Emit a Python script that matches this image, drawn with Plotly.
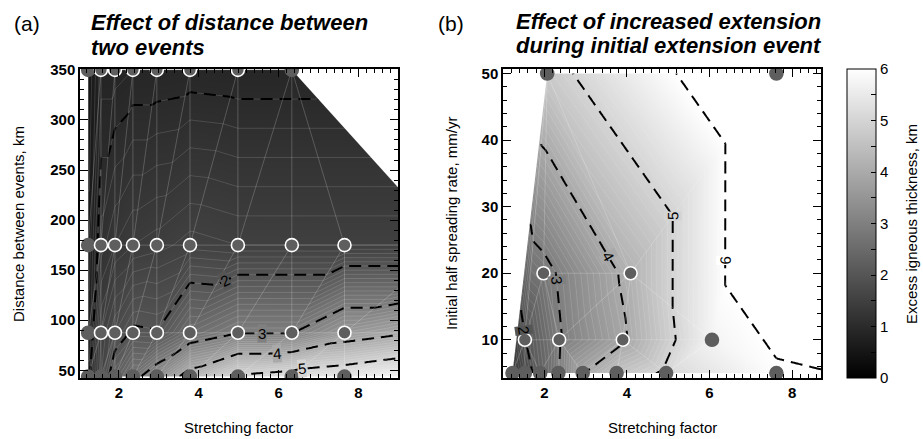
import numpy as np
import pandas as pd
import plotly.graph_objects as go

FONT = "Liberation Sans, Arial, sans-serif"

# ---------------- Panel (a): effect of distance between two events ----------------
# stretching factor of each model column (last column lies beyond the plotted range)
A_BETA = [1.23, 1.55, 1.9, 2.35, 2.95, 3.78, 4.98, 6.33, 7.65, 10.3]
# distance between events, km (one row of runs per distance)
A_DIST = [350, 175, 87.5, 43.75]
# excess igneous thickness, km (None = no run)
A_THICK_350 = [0.5, 0.85, 0.85, 0.9, 0.9, 0.92, 0.9, 0.9, None, None]
A_THICK_175 = [0.6, 1.15, 1.3, 1.4, 1.45, 1.55, 1.5, 1.5, 1.5, 1.5]
A_THICK_88 = [0.7, 1.5, 1.8, 2.05, 2.02, 2.6, 2.98, 2.98, 3.6, 4.2]
A_THICK_44 = [0.9, 1.6, 2.3, 2.8, 3.4, 4.3, 5.1, 5.3, 5.5, 6.0]
# runs drawn with a white ring
A_RING_350 = [0, 1, 1, 1, 1, 1, 1, 0, 0, 0]
A_RING_175 = [0, 1, 1, 1, 1, 1, 1, 1, 1, 0]
A_RING_88 = [0, 1, 1, 1, 1, 1, 1, 1, 1, 0]
A_RING_44 = [0, 0, 0, 0, 0, 0, 0, 0, 0, 0]
# contour labels: (level, stretching factor of the vertical line where the label sits)
A_LABELS = [(2, 4.65), (3, 5.6), (4, 5.95), (5, 6.6)]

# ---------------- Panel (b): increased extension during initial event ----------------
B_RATE = [5, 10, 20, 50]  # initial half spreading rate, mm/yr
B_BETA_5 = [1.23, 1.53, 1.9, 2.34, 2.93, 3.75, 4.95, 7.62, 10.5]
B_THICK_5 = [1.2, 1.7, 2.3, 2.97, 3.97, 4.6, 5.1, 5.95, 6.05]
B_RING_5 = [0, 0, 0, 0, 0, 0, 0, 0, 0]
B_BETA_10 = [1.53, 2.36, 3.9, 6.06]
B_THICK_10 = [1.97, 2.95, 3.9, 5.75]
B_RING_10 = [1, 1, 1, 0]
B_BETA_20 = [1.98, 4.09]
B_THICK_20 = [2.8, 4.2]
B_RING_20 = [1, 1]
B_BETA_50 = [2.07, 7.62]
B_THICK_50 = [4.75, 6.97]
B_RING_50 = [0, 0]
# contour labels: (level, spreading rate of the horizontal line, stretching factor it sits near)
B_LABELS = [(2, 11.5, 1.5), (3, 19.0, 2.4), (4, 22.5, 3.6), (5, 28.5, 5.05), (6, 22.0, 6.35)]

ZMIN, ZMAX = 0, 6
A_XR, A_YR = [1.025, 8.99], [42.2, 351.0]
B_XR, B_YR = [1.0, 8.7], [4.24, 50.7]
PLOT_W, PLOT_H = 318, 315
NGRID = 240


def collect(rows):
    xs, ys, zs, rs = [], [], [], []
    for y, bx, bz, br in rows:
        for x, z, r in zip(bx, bz, br):
            if z is None:
                continue
            xs.append(x); ys.append(y); zs.append(z); rs.append(r)
    return np.array(xs, float), np.array(ys, float), np.array(zs, float), np.array(rs, int)


def delaunay(px, py):
    n = len(px)
    P = list(zip(px, py))
    span = max(px.max() - px.min(), py.max() - py.min())
    cx, cy = (px.max() + px.min()) / 2, (py.max() + py.min()) / 2
    P += [(cx - 30 * span, cy - 15 * span), (cx, cy + 30 * span), (cx + 30 * span, cy - 15 * span)]

    def circ(t):
        (ax, ay), (bx, by), (qx, qy) = P[t[0]], P[t[1]], P[t[2]]
        d = 2 * (ax * (by - qy) + bx * (qy - ay) + qx * (ay - by))
        if abs(d) < 1e-12:
            return 0.0, 0.0, np.inf
        a2, b2, q2 = ax * ax + ay * ay, bx * bx + by * by, qx * qx + qy * qy
        ux = (a2 * (by - qy) + b2 * (qy - ay) + q2 * (ay - by)) / d
        uy = (a2 * (qx - bx) + b2 * (ax - qx) + q2 * (bx - ax)) / d
        return ux, uy, (ax - ux) ** 2 + (ay - uy) ** 2

    tris = [(n, n + 1, n + 2)]
    for i in range(n):
        x, y = P[i]
        bad = []
        for t in tris:
            ux, uy, r2 = circ(t)
            if (x - ux) ** 2 + (y - uy) ** 2 < r2 * (1 - 1e-9):
                bad.append(t)
        edges = {}
        for t in bad:
            for e in ((t[0], t[1]), (t[1], t[2]), (t[2], t[0])):
                k = tuple(sorted(e))
                edges[k] = edges.get(k, 0) + 1
        tris = [t for t in tris if t not in bad]
        for (a, b), c in edges.items():
            if c == 1:
                tris.append((a, b, i))
    return [t for t in tris if max(t) < n]


def hull(xs, ys):
    pts = sorted(set(zip(xs.tolist(), ys.tolist())))

    def cross(o, a, b):
        return (a[0] - o[0]) * (b[1] - o[1]) - (a[1] - o[1]) * (b[0] - o[0])

    lower, upper = [], []
    for p in pts:
        while len(lower) >= 2 and cross(lower[-2], lower[-1], p) <= 0:
            lower.pop()
        lower.append(p)
    for p in reversed(pts):
        while len(upper) >= 2 and cross(upper[-2], upper[-1], p) <= 0:
            upper.pop()
        upper.append(p)
    return lower[:-1] + upper[:-1]  # counter-clockwise


def surface(xs, ys, zs, xr, yr, n=NGRID):
    # triangulate in screen proportions, then linear interpolation on each triangle
    px = (xs - xr[0]) / (xr[1] - xr[0]) * PLOT_W
    py = (ys - yr[0]) / (yr[1] - yr[0]) * PLOT_H
    tris = delaunay(px, py)
    gx = np.linspace(xr[0], xr[1], n)
    gy = np.linspace(yr[0], yr[1], n)
    GX, GY = np.meshgrid(gx, gy)
    Z = np.full(GX.shape, np.nan)
    for i, j, k in tris:
        x1, y1, x2, y2, x3, y3 = xs[i], ys[i], xs[j], ys[j], xs[k], ys[k]
        det = (y2 - y3) * (x1 - x3) + (x3 - x2) * (y1 - y3)
        if abs(det) < 1e-12:
            continue
        l1 = ((y2 - y3) * (GX - x3) + (x3 - x2) * (GY - y3)) / det
        l2 = ((y3 - y1) * (GX - x3) + (x1 - x3) * (GY - y3)) / det
        l3 = 1 - l1 - l2
        inside = (l1 >= -1e-9) & (l2 >= -1e-9) & (l3 >= -1e-9)
        Z[inside] = (l1 * zs[i] + l2 * zs[j] + l3 * zs[k])[inside]
    # continue values past the data hull (covered by the blank mask afterwards)
    Zf = pd.DataFrame(Z).ffill(axis=1).bfill(axis=1).ffill(axis=0).bfill(axis=0).to_numpy()
    ex, ey = [], []
    for t in tris:
        for a, b in ((t[0], t[1]), (t[1], t[2]), (t[2], t[0])):
            ex += [xs[a], xs[b], None]
            ey += [ys[a], ys[b], None]
    return gx, gy, Zf, ex, ey


def outside_polygon(xs, ys, xr, yr):
    h = hull(xs, ys)
    dx, dy = (xr[1] - xr[0]), (yr[1] - yr[0])
    x0, x1 = xr[0] - dx, xr[1] + dx
    y0, y1 = yr[0] - dy, yr[1] + dy
    cw = h[::-1]
    s = int(np.argmin([(p[0] - x0) ** 2 / dx ** 2 + (p[1] - y0) ** 2 / dy ** 2 for p in cw]))
    cw = cw[s:] + cw[:s]
    px = [x0, x1, x1, x0, x0] + [p[0] for p in cw] + [cw[0][0], x0]
    py = [y0, y0, y1, y1, y0] + [p[1] for p in cw] + [cw[0][1], y0]
    return px, py


def crossing(gx, gy, Z, level, x=None, y=None, near=None):
    """Point where the surface crosses `level` along a vertical (x) or horizontal (y) line."""
    if y is not None:
        r = int(np.argmin(np.abs(gy - y)))
        line, pos = Z[r] - level, gx
    else:
        c = int(np.argmin(np.abs(gx - x)))
        line, pos = Z[:, c] - level, gy
    idx = np.where(np.sign(line[:-1]) != np.sign(line[1:]))[0]
    cands = [pos[i] + (pos[i + 1] - pos[i]) * (-line[i]) / (line[i + 1] - line[i]) for i in idx]
    if y is not None:
        cx = min(cands, key=lambda v: abs(v - near)) if near is not None else cands[0]
        cy = gy[r]
    else:
        cy = min(cands, key=lambda v: abs(v - near)) if near is not None else cands[-1]
        cx = gx[c]
    return cx, cy


def label_angle(gx, gy, Z, cx, cy, xr, yr):
    dzr, dzc = np.gradient(Z)
    i = int(np.argmin(np.abs(gy - cy)))
    j = int(np.argmin(np.abs(gx - cx)))
    gpx = dzc[i, j] / (PLOT_W / (len(gx) - 1))
    gpy = dzr[i, j] / (PLOT_H / (len(gy) - 1))
    tx, ty = -gpy, gpx  # tangent, y upward
    ang = np.degrees(np.arctan2(-ty, tx))  # screen clockwise
    if ang > 90:
        ang -= 180
    if ang < -90:
        ang += 180
    return float(ang)


def gray(v):
    g = int(round(np.clip(v / ZMAX, 0, 1) * 255))
    return f"rgb({g},{g},{g})"


fig = go.Figure()
GRAY = [[0, "black"], [1, "white"]]

panels = [
    (collect([(A_DIST[0], A_BETA, A_THICK_350, A_RING_350),
              (A_DIST[1], A_BETA, A_THICK_175, A_RING_175),
              (A_DIST[2], A_BETA, A_THICK_88, A_RING_88),
              (A_DIST[3], A_BETA, A_THICK_44, A_RING_44)]), A_XR, A_YR, "x", "y", "a"),
    (collect([(B_RATE[0], B_BETA_5, B_THICK_5, B_RING_5),
              (B_RATE[1], B_BETA_10, B_THICK_10, B_RING_10),
              (B_RATE[2], B_BETA_20, B_THICK_20, B_RING_20),
              (B_RATE[3], B_BETA_50, B_THICK_50, B_RING_50)]), B_XR, B_YR, "x2", "y2", "b"),
]

for (xs, ys, zs, rs), xr, yr, xa, ya, tag in panels:
    gx, gy, Z, ex, ey = surface(xs, ys, zs, xr, yr)
    # shaded surface with fine faint level lines
    fig.add_trace(go.Contour(
        x=gx, y=gy, z=Z, xaxis=xa, yaxis=ya, coloraxis="coloraxis",
        autocontour=False,
        contours=dict(start=0.1, end=5.95, size=0.1, coloring="heatmap"),
        line=dict(color="rgba(255,255,255,0.25)", width=0.6, smoothing=0),
        hoverinfo="skip",
    ))
    # dashed integer contours
    fig.add_trace(go.Contour(
        x=gx, y=gy, z=Z, xaxis=xa, yaxis=ya,
        autocontour=False,
        contours=dict(start=1, end=6, size=1, coloring="none", showlabels=False),
        line=dict(color="black", width=2, dash="12px,7px", smoothing=0),
        showscale=False, hoverinfo="skip",
    ))
    # triangulation mesh
    fig.add_trace(go.Scatter(
        x=ex, y=ey, xaxis=xa, yaxis=ya, mode="lines",
        line=dict(color="rgba(255,255,255,0.16)", width=0.7),
        hoverinfo="skip",
    ))
    # blank everything outside the area covered by model runs
    mx, my = outside_polygon(xs, ys, xr, yr)
    fig.add_trace(go.Scatter(
        x=mx, y=my, xaxis=xa, yaxis=ya, mode="lines", fill="toself",
        fillcolor="white", line=dict(color="white", width=0),
        hoverinfo="skip",
    ))
    # model runs
    fig.add_trace(go.Scatter(
        x=xs, y=ys, xaxis=xa, yaxis=ya, mode="markers",
        marker=dict(size=13, color="#5e5e5e",
                    line=dict(color=["white" if r else "#5e5e5e" for r in rs], width=1.6)),
        hoverinfo="skip",
    ))
    # contour labels sitting on the dashed lines
    if tag == "a":
        spots = [(lev, crossing(gx, gy, Z, lev, x=xv)) for lev, xv in A_LABELS]
    else:
        spots = [(lev, crossing(gx, gy, Z, lev, y=yv, near=nx)) for lev, yv, nx in B_LABELS]
    for lev, (cx, cy) in spots:
        fig.add_annotation(
            text=str(lev), x=cx, y=cy, xref=xa, yref=ya, showarrow=False,
            xanchor="center", yanchor="middle",
            textangle=label_angle(gx, gy, Z, cx, cy, xr, yr),
            bgcolor=gray(lev), borderpad=0,
            font=dict(family=FONT, size=15, color="black"),
        )

axis_common = dict(
    showline=True, linecolor="black", linewidth=1.5, mirror="ticks",
    ticks="inside", ticklen=8, tickwidth=1.3, tickcolor="black",
    showgrid=False, zeroline=False,
    tickfont=dict(family=FONT, size=15, color="black", weight="bold"),
)
ydom = [1 - 377 / 439, 1 - 62 / 439]
fig.update_layout(
    width=923, height=439, margin=dict(l=0, r=0, t=0, b=0),
    paper_bgcolor="white", plot_bgcolor="white", showlegend=False,
    coloraxis=dict(
        colorscale=GRAY, cmin=ZMIN, cmax=ZMAX, cauto=False,
        colorbar=dict(
            x=847 / 923, xanchor="left", y=0.5, yanchor="middle",
            len=315 / 439, lenmode="fraction", thickness=29, thicknessmode="pixels",
            outlinecolor="black", outlinewidth=1,
            ticks="inside", ticklen=5, tickcolor="black",
            tickvals=[v / 2 for v in range(13)],
            ticktext=[str(v // 2) if v % 2 == 0 else "" for v in range(13)],
            tickfont=dict(family=FONT, size=15, color="black"),
            xpad=0, ypad=0,
        ),
    ),
    xaxis=dict(domain=[80 / 923, 398 / 923], range=A_XR, tick0=0, dtick=2,
               minor=dict(ticks="inside", ticklen=4, tickwidth=1, tickcolor="black", dtick=0.2),
               anchor="y", **axis_common),
    yaxis=dict(domain=ydom, range=A_YR, tick0=0, dtick=50,
               minor=dict(ticks="inside", ticklen=4, tickwidth=1, tickcolor="black", dtick=10),
               anchor="x", **axis_common),
    xaxis2=dict(domain=[503 / 923, 821 / 923], range=B_XR, tick0=0, dtick=2,
                minor=dict(ticks="inside", ticklen=4, tickwidth=1, tickcolor="black", dtick=0.2),
                anchor="y2", **axis_common),
    yaxis2=dict(domain=ydom, range=B_YR, tick0=0, dtick=10,
                minor=dict(ticks="inside", ticklen=4, tickwidth=1, tickcolor="black", dtick=2),
                anchor="x2", **axis_common),
)


def px_ann(text, x, y, size, xanchor="left", angle=0, bold_italic=False):
    if bold_italic:
        text = "<b><i>" + text + "</i></b>"
    fig.add_annotation(text=text, x=x / 923, y=1 - y / 439, xref="paper", yref="paper",
                       xanchor=xanchor, yanchor="middle", textangle=angle, showarrow=False,
                       font=dict(family=FONT, size=size, color="black"))


px_ann("(a)", 12, 16, 21)
px_ann("Effect of distance between", 89, 15, 22, bold_italic=True)
px_ann("two events", 89, 40, 22, bold_italic=True)
px_ann("(b)", 436, 16, 21)
px_ann("Effect of increased extension", 514, 14, 22, bold_italic=True)
px_ann("during initial extension event", 514, 38, 22, bold_italic=True)
px_ann("Stretching factor", 239, 427, 15, xanchor="center")
px_ann("Stretching factor", 662, 427, 15, xanchor="center")
px_ann("Distance between events, km", 19, 220, 15, xanchor="center", angle=-90)
px_ann("Initial half spreading rate, mm/yr", 452, 220, 15, xanchor="center", angle=-90)
px_ann("Excess igneous thickness, km", 912, 220, 15, xanchor="center", angle=-90)

fig.write_html("out.html")
